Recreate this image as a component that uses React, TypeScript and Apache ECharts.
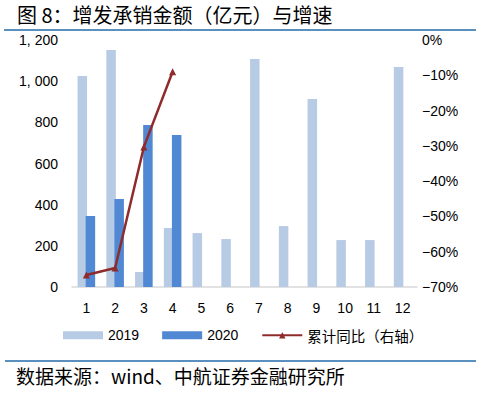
import React, { useEffect, useRef } from "react";
import * as echarts from "echarts";

const months = ["1", "2", "3", "4", "5", "6", "7", "8", "9", "10", "11", "12"];
const v2019 = [1025, 1151, 73, 287, 262, 233, 1108, 296, 913, 228, 228, 1069];
const v2020 = [345, 427, 787, 738];
const yoy = [-66.6, -64.6, -30.3, -9.0];
const leftTicks = [0, 200, 400, 600, 800, 1000, 1200];
const rightTicks = [-70, -60, -50, -40, -30, -20, -10, 0];

export default function App() {
  const ref = useRef<HTMLDivElement>(null);
  useEffect(() => {
    if (!ref.current) return;
    const chart = echarts.init(ref.current, null, { renderer: "svg" });
    const font = "'Liberation Sans', Arial, sans-serif";
    const cjk = "'Noto Sans CJK SC', sans-serif";
    chart.setOption({
      animation: false,
      textStyle: { fontFamily: font },
      grid: { left: 72, right: 68, top: 40, bottom: 111 },
      legend: {
        left: 58,
        top: 323,
        itemWidth: 40,
        itemHeight: 8,
        itemGap: 23,
        textStyle: { fontSize: 14, color: "#000", fontFamily: font },
        data: [
          { name: "2019", icon: "rect" },
          { name: "2020", icon: "rect" },
          { name: "累计同比（右轴）", textStyle: { fontFamily: cjk, fontSize: 14.5 } },
        ],
      },
      xAxis: {
        type: "category",
        data: months,
        axisLine: { lineStyle: { color: "#d9d9d9", width: 1.5 } },
        axisTick: { show: false },
        axisLabel: { color: "#000", fontSize: 14, margin: 14 },
      },
      yAxis: [
        {
          type: "value",
          min: leftTicks[0],
          max: leftTicks[leftTicks.length - 1],
          interval: 200,
          splitLine: { show: false },
          axisLine: { show: false },
          axisTick: { show: false },
          axisLabel: {
            color: "#000",
            fontSize: 14,
            margin: 14,
            formatter: (v: number) =>
              v >= 1000 ? Math.floor(v / 1000) + ", " + String(v % 1000).padStart(3, "0") : String(v),
          },
        },
        {
          type: "value",
          min: rightTicks[0],
          max: rightTicks[rightTicks.length - 1],
          interval: 10,
          splitLine: { show: false },
          axisLine: { show: false },
          axisTick: { show: false },
          axisLabel: {
            color: "#000",
            fontSize: 14,
            margin: 5,
            formatter: (v: number) => (v < 0 ? "−" + Math.abs(v) : String(v)) + "%",
          },
        },
      ],
      series: [
        {
          name: "2019",
          type: "bar",
          data: v2019,
          barWidth: 9.5,
          barGap: "-15%",
          itemStyle: { color: "#b7cbe5" },
        },
        {
          name: "2020",
          type: "bar",
          data: v2020,
          barWidth: 9.5,
          itemStyle: { color: "#5088d4" },
        },
        {
          name: "累计同比（右轴）",
          type: "line",
          yAxisIndex: 1,
          data: yoy,
          symbol: "triangle",
          symbolSize: 7,
          lineStyle: { color: "#8e2b2b", width: 2.5 },
          itemStyle: { color: "#8e2b2b" },
        },
      ],
      graphic: [
        {
          type: "text",
          left: 17,
          top: 4,
          style: { text: "图 8：增发承销金额（亿元）与增速", fontSize: 20, fill: "#000", fontFamily: cjk },
        },
        {
          type: "line",
          shape: { x1: 4, y1: 30, x2: 476, y2: 30 },
          style: { stroke: "#5b8fbd", lineWidth: 2 },
        },
        {
          type: "line",
          shape: { x1: 5, y1: 361, x2: 476, y2: 361 },
          style: { stroke: "#5b8fbd", lineWidth: 2 },
        },
        {
          type: "text",
          left: 16,
          top: 366,
          style: { text: "数据来源：wind、中航证券金融研究所", fontSize: 19, fill: "#000", fontFamily: cjk },
        },
      ],
    });
    return () => chart.dispose();
  }, []);
  return <div ref={ref} style={{ width: 485, height: 398, position: "absolute", left: 0, top: 0, background: "#fff" }} />;
}
